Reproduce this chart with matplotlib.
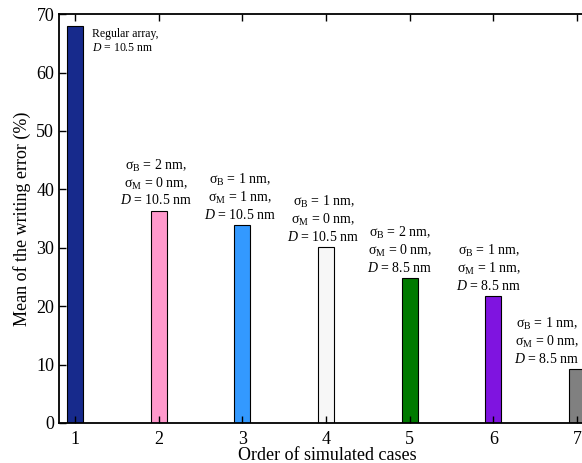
import matplotlib
matplotlib.use("Agg")
import matplotlib.pyplot as plt

plt.rcParams['font.family'] = ['Liberation Serif', 'DejaVu Serif']
plt.rcParams['mathtext.fontset'] = 'custom'
plt.rcParams['mathtext.rm'] = 'Liberation Serif'
plt.rcParams['mathtext.it'] = 'Liberation Serif:italic'

cases = [1, 2, 3, 4, 5, 6, 7]
errors = [68.0, 36.3, 33.9, 30.1, 24.8, 21.7, 9.2]
colors = ['#172a8c', '#ff99cc', '#3399ff', '#f7f7f7', '#007a00', '#7f14e0', '#808080']
labels = [
    'Regular array,\n$D$ = 10.5 nm',
    'σ$_\\mathrm{B}$ = 2 nm,\nσ$_\\mathrm{M}$ = 0 nm,\n$D$ = 10.5 nm',
    'σ$_\\mathrm{B}$ = 1 nm,\nσ$_\\mathrm{M}$ = 1 nm,\n$D$ = 10.5 nm',
    'σ$_\\mathrm{B}$ = 1 nm,\nσ$_\\mathrm{M}$ = 0 nm,\n$D$ = 10.5 nm',
    'σ$_\\mathrm{B}$ = 2 nm,\nσ$_\\mathrm{M}$ = 0 nm,\n$D$ = 8.5 nm',
    'σ$_\\mathrm{B}$ = 1 nm,\nσ$_\\mathrm{M}$ = 1 nm,\n$D$ = 8.5 nm',
    'σ$_\\mathrm{B}$ = 1 nm,\nσ$_\\mathrm{M}$ = 0 nm,\n$D$ = 8.5 nm',
]
label_dx = [0, -0.03, -0.03, -0.03, -0.12, -0.05, -0.36]

fig = plt.figure(figsize=(5.82, 4.63), dpi=100)
ax = fig.add_axes([0.1014, 0.0864, 0.923, 0.883])

ax.bar(cases, errors, width=0.19, color=colors, edgecolor='black', linewidth=0.8)

for i in range(len(cases)):
    if i == 0:
        ax.text(cases[i] + 0.2, errors[i] - 0.3, labels[i], fontsize=8.5,
                ha='left', va='top', linespacing=1.25)
    else:
        ax.text(cases[i] + label_dx[i], errors[i] + 0.6, labels[i], fontsize=10,
                ha='center', va='bottom', linespacing=1.15)

ax.set_xlim(0.81, 7.23)
ax.set_ylim(0, 70)
ax.set_xticks(cases)
ax.set_yticks(range(0, 71, 10))
ax.tick_params(direction='in', top=True, right=False, labelsize=13, length=5, width=1)
ax.tick_params(axis='x', pad=6)
for s in ax.spines.values():
    s.set_linewidth(1.3)

ax.set_xlabel('Order of simulated cases', fontsize=13, labelpad=-1)
ax.set_ylabel('Mean of the writing error (%)', fontsize=13, labelpad=4)

fig.savefig('out.png', dpi=100)
